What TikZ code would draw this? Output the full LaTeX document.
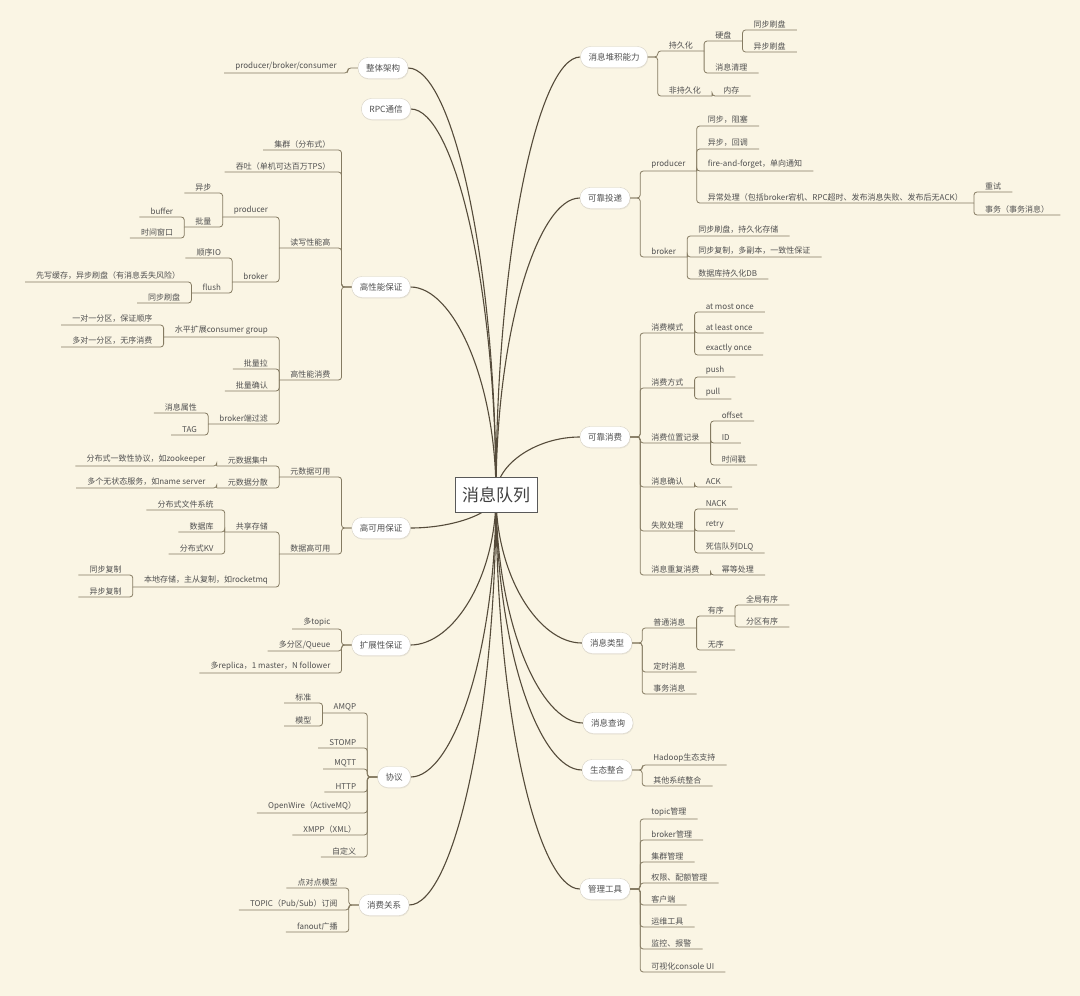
\documentclass[tikz,border=0pt]{standalone}
\usepackage{fontspec}
\setmainfont{Noto Sans CJK SC}
\usetikzlibrary{calc,shadows}
\definecolor{bgc}{HTML}{FAF5E4}
\definecolor{linec}{HTML}{857B62}
\definecolor{mainc}{HTML}{554B3A}
\definecolor{txtc}{HTML}{505050}
\definecolor{pillb}{HTML}{D6D1C4}
\pgfdeclarelayer{back}
\pgfsetlayers{back,main}
\tikzset{
  lf/.style={font=\fontsize{8}{9}\selectfont, text=txtc, inner xsep=11pt, inner ysep=2pt},
  topic/.style={font=\fontsize{8.5}{10}\selectfont, text=txtc, fill=white, draw=pillb, rounded corners=10pt, inner xsep=8pt, inner ysep=5pt, minimum height=21pt, drop shadow={opacity=0.12,shadow xshift=0.6pt,shadow yshift=-1pt}},
  root/.style={font=\fontsize{17}{20}\selectfont, text=black!75, fill=white, draw=black!65, line width=0.9pt, minimum width=82pt, minimum height=35pt},
  ln/.style={draw=linec, line width=0.8pt, rounded corners=3pt},
  br/.style={draw=mainc, line width=1.1pt},
  branch/.style={to path={.. controls ($(\tikztostart)!0.55!(\tikztostart|-\tikztotarget)$) and ($(\tikztotarget)!0.5!(\tikztotarget-|\tikztostart)$) .. (\tikztotarget)}}
}
% left side
\newcommand\ltopic[4]{\node[topic] (#1) at (#2,#3) {#4};\coordinate (#1b) at ([xshift=-10pt]#1.west);}
\newcommand\ltk[4]{\node[lf,anchor=south east] (#2) at (#1b |- 0,#3) {#4};\draw[ln] (#1.west) -- (#1b) |- (#2.south west);}
\newcommand\lkid[4]{\node[lf,anchor=south east] (#2) at (#1.south west |- 0,#3) {#4};\draw[ln] (#1.south west) |- (#2.south west);}
% right side
\newcommand\rtopic[4]{\node[topic] (#1) at (#2,#3) {#4};\coordinate (#1b) at ([xshift=10pt]#1.east);}
\newcommand\rtk[4]{\node[lf,anchor=south west] (#2) at (#1b |- 0,#3) {#4};\draw[ln] (#1.east) -- (#1b) |- (#2.south east);}
\newcommand\rkid[4]{\node[lf,anchor=south west] (#2) at (#1.south east |- 0,#3) {#4};\draw[ln] (#1.south east) |- (#2.south east);}
\begin{document}
\begin{tikzpicture}[x=1pt,y=-1pt]
\useasboundingbox (0,0) rectangle (1080,996);
\coordinate (C) at (496,495);
\node[root] (root) at (496,495) {消息队列};

% ---------- left ----------
\ltopic{t1}{383}{68}{整体架构}
\ltk{t1}{a1}{73}{producer/broker/consumer}

\ltopic{t2}{386}{109}{RPC通信}

\ltopic{t3}{381}{287}{高性能保证}
\ltk{t3}{b1}{150}{集群（分布式）}
\ltk{t3}{b2}{172}{吞吐（单机可达百万TPS）}
\ltk{t3}{b3}{248}{读写性能高}
\lkid{b3}{b31}{217}{producer}
\lkid{b31}{b311}{193}{异步}
\lkid{b31}{b312}{227}{批量}
\lkid{b312}{b3121}{217}{buffer}
\lkid{b312}{b3122}{238}{时间窗口}
\lkid{b3}{b32}{282}{broker}
\lkid{b32}{b321}{258}{顺序IO}
\lkid{b32}{b322}{293}{flush}
\lkid{b322}{b3221}{282}{先写缓存，异步刷盘（有消息丢失风险）}
\lkid{b322}{b3222}{303}{同步刷盘}
\ltk{t3}{b4}{380}{高性能消费}
\lkid{b4}{b41}{337}{水平扩展consumer group}
\lkid{b41}{b411}{325}{一对一分区，保证顺序}
\lkid{b41}{b412}{347}{多对一分区，无序消费}
\lkid{b4}{b42}{369}{批量拉}
\lkid{b4}{b43}{391}{批量确认}
\lkid{b4}{b44}{424}{broker端过滤}
\lkid{b44}{b441}{413}{消息属性}
\lkid{b44}{b442}{435}{TAG}

\ltopic{t4}{381}{528}{高可用保证}
\ltk{t4}{c1}{477}{元数据可用}
\lkid{c1}{c11}{466}{元数据集中}
\lkid{c11}{c111}{466}{分布式一致性协议，如zookeeper}
\lkid{c1}{c12}{488}{元数据分散}
\lkid{c12}{c121}{488}{多个无状态服务，如name server}
\ltk{t4}{c2}{554}{数据高可用}
\lkid{c2}{c21}{532}{共享存储}
\lkid{c21}{c211}{510}{分布式文件系统}
\lkid{c21}{c212}{532}{数据库}
\lkid{c21}{c213}{554}{分布式KV}
\lkid{c2}{c22}{587}{本地存储，主从复制，如rocketmq}
\lkid{c22}{c221}{575}{同步复制}
\lkid{c22}{c222}{597}{异步复制}

\ltopic{t5}{381}{645}{扩展性保证}
\ltk{t5}{d1}{629}{多topic}
\ltk{t5}{d2}{651}{多分区/Queue}
\ltk{t5}{d3}{673}{多replica，1 master，N follower}

\ltopic{t6}{394}{777}{协议}
\ltk{t6}{e1}{713}{AMQP}
\lkid{e1}{e11}{703}{标准}
\lkid{e1}{e12}{726}{模型}
\ltk{t6}{e2}{748}{STOMP}
\ltk{t6}{e3}{769}{MQTT}
\ltk{t6}{e4}{792}{HTTP}
\ltk{t6}{e5}{813}{OpenWire（ActiveMQ）}
\ltk{t6}{e6}{835}{XMPP（XML）}
\ltk{t6}{e7}{857}{自定义}

\ltopic{t7}{384}{905}{消费关系}
\ltk{t7}{f1}{888}{点对点模型}
\ltk{t7}{f2}{910}{TOPIC（Pub/Sub）订阅}
\ltk{t7}{f3}{932}{fanout广播}

% ---------- right ----------
\rtopic{r1}{614}{57}{消息堆积能力}
\rtk{r1}{g1}{51}{持久化}
\rkid{g1}{g11}{41}{硬盘}
\rkid{g11}{g111}{30}{同步刷盘}
\rkid{g11}{g112}{52}{异步刷盘}
\rkid{g1}{g12}{73}{消息清理}
\rtk{r1}{g2}{96}{非持久化}
\rkid{g2}{g21}{96}{内存}

\rtopic{r2}{605}{198}{可靠投递}
\rtk{r2}{h1}{171}{producer}
\rkid{h1}{h11}{126}{同步，阻塞}
\rkid{h1}{h12}{149}{异步，回调}
\rkid{h1}{h13}{171}{fire-and-forget，单向通知}
\rkid{h1}{h14}{203}{异常处理（包括broker宕机、RPC超时、发布消息失败、发布后无ACK）}
\rkid{h14}{h141}{192}{重试}
\rkid{h14}{h142}{215}{事务（事务消息）}
\rtk{r2}{h2}{257}{broker}
\rkid{h2}{h21}{236}{同步刷盘，持久化存储}
\rkid{h2}{h22}{257}{同步复制，多副本，一致性保证}
\rkid{h2}{h23}{279}{数据库持久化DB}

\rtopic{r3}{605}{437}{可靠消费}
\rtk{r3}{i1}{333}{消费模式}
\rkid{i1}{i11}{312}{at most once}
\rkid{i1}{i12}{333}{at least once}
\rkid{i1}{i13}{355}{exactly once}
\rtk{r3}{i2}{388}{消费方式}
\rkid{i2}{i21}{377}{push}
\rkid{i2}{i22}{399}{pull}
\rtk{r3}{i3}{443}{消费位置记录}
\rkid{i3}{i31}{421}{offset}
\rkid{i3}{i32}{443}{ID}
\rkid{i3}{i33}{465}{时间戳}
\rtk{r3}{i4}{487}{消息确认}
\rkid{i4}{i41}{487}{ACK}
\rtk{r3}{i5}{531}{失败处理}
\rkid{i5}{i51}{509}{NACK}
\rkid{i5}{i52}{531}{retry}
\rkid{i5}{i53}{553}{死信队列DLQ}
\rtk{r3}{i6}{575}{消息重复消费}
\rkid{i6}{i61}{575}{幂等处理}

\rtopic{r4}{607}{643}{消息类型}
\rtk{r4}{j1}{628}{普通消息}
\rkid{j1}{j11}{616}{有序}
\rkid{j11}{j111}{605}{全局有序}
\rkid{j11}{j112}{627}{分区有序}
\rkid{j1}{j12}{650}{无序}
\rtk{r4}{j2}{672}{定时消息}
\rtk{r4}{j3}{694}{事务消息}

\rtopic{r5}{608}{723}{消息查询}

\rtopic{r6}{607}{770}{生态整合}
\rtk{r6}{k1}{765}{Hadoop生态支持}
\rtk{r6}{k2}{786}{其他系统整合}

\rtopic{r7}{605}{889}{管理工具}
\rtk{r7}{l1}{819}{topic管理}
\rtk{r7}{l2}{840}{broker管理}
\rtk{r7}{l3}{862}{集群管理}
\rtk{r7}{l4}{883}{权限、配额管理}
\rtk{r7}{l5}{905}{客户端}
\rtk{r7}{l6}{927}{运维工具}
\rtk{r7}{l7}{949}{监控、报警}
\rtk{r7}{l8}{972}{可视化console UI}

\begin{pgfonlayer}{back}
\fill[bgc] (0,0) rectangle (1080,996);
\foreach \t in {t1,t2,t3,t4,t5,t6,t7} \draw[br] (C) to[branch] (\t.east);
\foreach \t in {r1,r2,r3,r4,r5,r6,r7} \draw[br] (C) to[branch] (\t.west);
\end{pgfonlayer}
\end{tikzpicture}
\end{document}
